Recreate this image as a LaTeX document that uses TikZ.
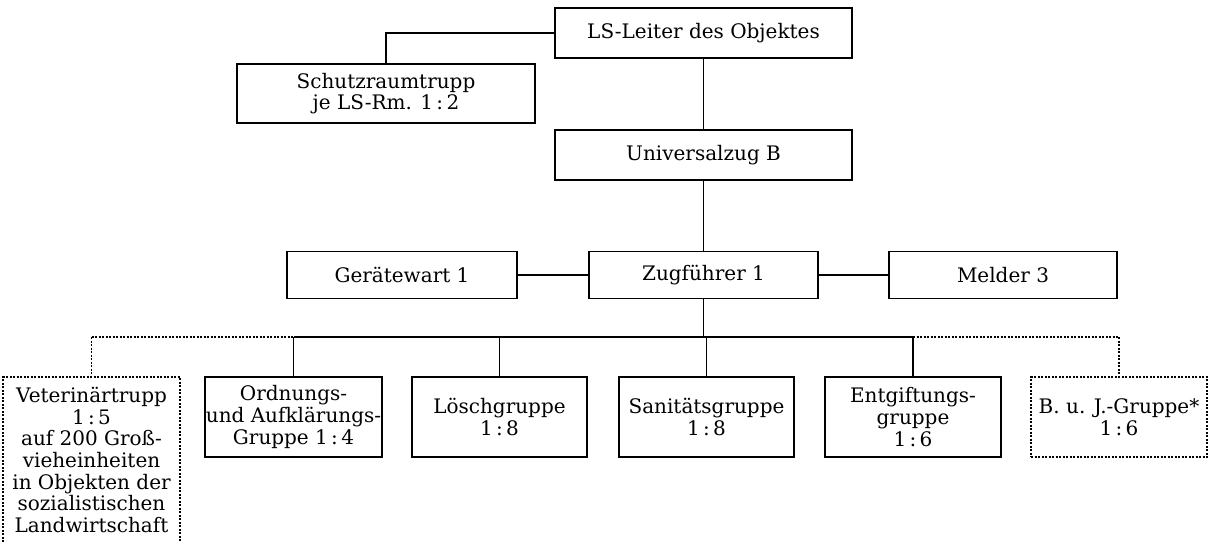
\documentclass[tikz,border=0pt]{standalone}
\usepackage{fontspec}
\setmainfont{DejaVu Serif}
\newcommand\diagfont{\fontsize{20}{21.7}\selectfont}
\newcommand\rt{\,:\,}
\begin{document}
\begin{tikzpicture}[x=1pt,y=-1pt,
  box/.style={draw, line width=1.3pt, inner sep=0pt, align=center, font=\diagfont},
  dotbox/.style={box, line width=1.8pt, dash pattern=on 2pt off 1.5pt},
  conn/.style={line width=1.1pt},
  dotconn/.style={line width=1.8pt, dash pattern=on 2pt off 1.5pt}]
\useasboundingbox (0,0) rectangle (1213,543);
\clip (0,0) rectangle (1213,543);
% top
\node[box, line width=2.2pt, minimum width=297, minimum height=50] (leiter) at (703.5,33) {LS-Leiter des Objektes};
\node[box, minimum width=298, minimum height=59] (schutz) at (386,93.5) {Schutzraumtrupp\\je LS-Rm. 1\rt2};
\node[box, minimum width=297, minimum height=50] (univ) at (703.5,155) {Universalzug B};
% middle
\node[box, minimum width=230, minimum height=47] (geraet) at (402,275) {Gerätewart 1};
\node[box, minimum width=229, minimum height=47] (zug) at (703.5,275) {Zugführer 1};
\node[box, minimum width=228, minimum height=47] (melder) at (1003,275) {Melder 3};
% bottom
\node[font=\diagfont, align=center, inner sep=0pt] (vet) at (91.5,460) {Veterinärtrupp\\1\rt5\\auf 200 Groß-\\vieheinheiten\\in Objekten der\\sozialistischen\\Landwirtschaft};
\coordinate (vettop) at (91.5,377);
\draw[dotconn] (3,570) -- (3,377) -- (180,377) -- (180,570);
\node[box, minimum width=177, minimum height=80] (ord) at (293.5,417) {Ordnungs-\\und Aufklärungs-\\Gruppe 1\rt4};
\node[box, minimum width=175, minimum height=80] (loesch) at (499.5,417) {Löschgruppe\\1\rt8};
\node[box, minimum width=175, minimum height=80] (sani) at (706.5,417) {Sanitätsgruppe\\1\rt8};
\node[box, minimum width=176, minimum height=80] (entg) at (913,417) {Entgiftungs-\\gruppe\\1\rt6};
\node[dotbox, minimum width=176, minimum height=80] (buj) at (1119,417) {B. u. J.-Gruppe*\\1\rt6};
\coordinate (bus) at (703.5,337);
% connectors
\draw[conn] (leiter.west) -| (schutz.north);
\draw[conn] (leiter.south) -- (univ.north);
\draw[conn] (univ.south) -- (zug.north);
\draw[conn] (geraet.east) -- (zug.west);
\draw[conn] (zug.east) -- (melder.west);
\draw[conn] (zug.south) -- (bus);
\draw[dotconn] (vettop |- bus) -- (ord.north |- bus);
\draw[conn] (ord.north |- bus) -- (entg.north |- bus);
\draw[dotconn] (entg.north |- bus) -- (buj.north |- bus);
\draw[dotconn] (vettop |- bus) -- (vettop);
\draw[conn] (ord.north |- bus) -- (ord.north);
\draw[conn] (loesch.north |- bus) -- (loesch.north);
\draw[conn] (sani.north |- bus) -- (sani.north);
\draw[conn] (entg.north |- bus) -- (entg.north);
\draw[dotconn] (buj.north |- bus) -- (buj.north);
\end{tikzpicture}
\end{document}
